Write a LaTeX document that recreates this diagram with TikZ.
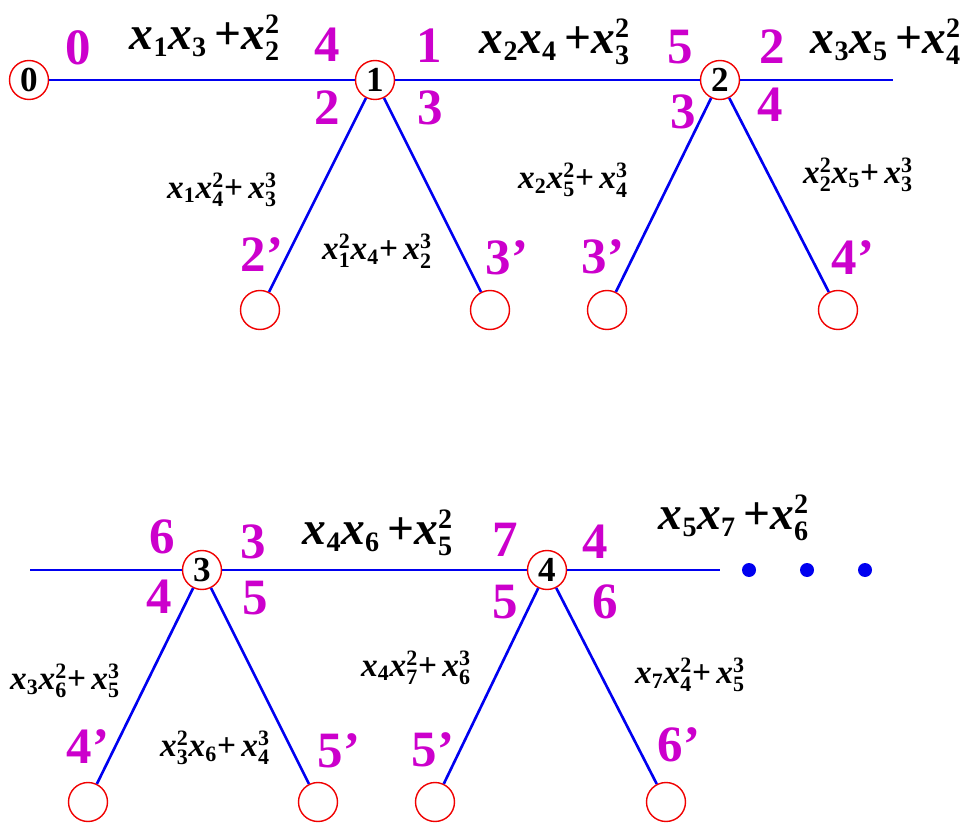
\documentclass[tikz,border=0pt]{standalone}
\usepackage{fontspec}
\setmainfont{Liberation Serif}
\usepackage{amsmath}
\usepackage{xcolor}
\definecolor{wireblue}{HTML}{0000F0}
\definecolor{portmag}{HTML}{CC00CC}
\definecolor{ringred}{HTML}{F00000}
\DeclareMathSizes{27}{27}{16}{12}
\DeclareMathSizes{19}{19}{12.5}{10}
\tikzset{
  vtx/.style    ={circle,draw=ringred,line width=0.8pt,minimum size=7.8mm,
                  inner sep=0pt,font=\fontsize{20}{20}\selectfont\bfseries},
  leaf/.style   ={circle,draw=ringred,line width=0.8pt,minimum size=7.8mm,
                  inner sep=0pt},
  port/.style   ={text=portmag,font=\fontsize{29}{29}\selectfont\bfseries,
                  inner sep=0pt},
  bigeq/.style  ={font=\fontsize{27}{27}\selectfont\bfseries,inner sep=0pt},
  smalleq/.style={font=\fontsize{19}{19}\selectfont\bfseries,inner sep=0pt},
  wire/.style   ={draw=wireblue,line width=1.5pt},
  etc/.style    ={circle,fill=wireblue,minimum size=2.8mm,inner sep=0pt},
}
\newcommand{\xs}[1]{\text{\itshape x}_{\text{#1}}}
\newcommand{\xp}[2]{\text{\itshape x}_{\text{#1}}^{\text{#2}}}

\begin{document}
\begin{tikzpicture}[x=0.02cm,y=-0.02cm]
\useasboundingbox (0,0) rectangle (967,824);
% top chain
\node[vtx] (n0) at (29,80) {0};
\node[vtx] (n1) at (375,80) {1};
\node[vtx] (n2) at (720,80) {2};
\coordinate (e0) at (893,80);
\node[leaf] (t1) at (260,310) {};
\node[leaf] (t2) at (490,310) {};
\node[leaf] (t3) at (607,310) {};
\node[leaf] (t4) at (838,310) {};
\draw[wire] (n0) -- (n1);
\draw[wire] (n1) -- (n2);
\draw[wire] (n2) -- (e0);
\draw[wire] (n1) -- (t1);
\draw[wire] (n1) -- (t2);
\draw[wire] (n2) -- (t3);
\draw[wire] (n2) -- (t4);
% top labels
\node[port] (p0) at (78,48) {0};
\node[port] (p4) at (327,45) {4};
\node[port] (p1) at (429,46) {1};
\node[port] (p2) at (327,108) {2};
\node[port] (p3) at (430,108) {3};
\node[port] (p5) at (680,47) {5};
\node[port] (p2b) at (772,47) {2};
\node[port] (p3b) at (683,112) {3};
\node[port] (p4b) at (770,105) {4};
\node[port] (q2) at (262,255) {2'};
\node[port] (q3) at (507,258) {3'};
\node[port] (q3b) at (603,257) {3'};
\node[port] (q4) at (853,258) {4'};
\node[bigeq] (f1) at (205,38) {$\xs{1}\xs{3}\,\text{+}\xp{2}{2}$};
\node[bigeq] (f2) at (555,42) {$\xs{2}\xs{4}\,\text{+}\xp{3}{2}$};
\node[bigeq] (f3) at (886,42) {$\xs{3}\xs{5}\,\text{+}\xp{4}{2}$};
\node[smalleq] (g1) at (222,190) {$\xs{1}\xp{4}{2}\text{+}\,\xp{3}{3}$};
\node[smalleq] (g2) at (377,251) {$\xp{1}{2}\xs{4}\text{+}\,\xp{2}{3}$};
\node[smalleq] (g3) at (573,180) {$\xs{2}\xp{5}{2}\text{+}\,\xp{4}{3}$};
\node[smalleq] (g4) at (858,175) {$\xp{2}{2}\xs{5}\text{+}\,\xp{3}{3}$};
% bottom chain
\coordinate (s1) at (30,570);
\node[vtx] (n3) at (202,570) {3};
\node[vtx] (n4) at (547,570) {4};
\coordinate (e1) at (720,570);
\node[leaf] (b1) at (88,802) {};
\node[leaf] (b2) at (318,802) {};
\node[leaf] (b3) at (435,802) {};
\node[leaf] (b4) at (666,802) {};
\draw[wire] (s1) -- (n3);
\draw[wire] (n3) -- (n4);
\draw[wire] (n4) -- (e1);
\draw[wire] (n3) -- (b1);
\draw[wire] (n3) -- (b2);
\draw[wire] (n4) -- (b3);
\draw[wire] (n4) -- (b4);
\node[etc] (d1) at (749,570) {};
\node[etc] (d2) at (807,570) {};
\node[etc] (d3) at (865,570) {};
% bottom labels
\node[port] (p6) at (162,537) {6};
\node[port] (p3c) at (253,542) {3};
\node[port] (p4c) at (159,597) {4};
\node[port] (p5c) at (255,598) {5};
\node[port] (p7) at (505,540) {7};
\node[port] (p4d) at (595,542) {4};
\node[port] (p5d) at (505,602) {5};
\node[port] (p6d) at (605,602) {6};
\node[port] (q4c) at (88,747) {4'};
\node[port] (q5c) at (339,751) {5'};
\node[port] (q5d) at (433,750) {5'};
\node[port] (q6d) at (679,745) {6'};
\node[bigeq] (f4) at (378,533) {$\xs{4}\xs{6}\,\text{+}\xp{5}{2}$};
\node[bigeq] (f5) at (734,518) {$\xs{5}\xs{7}\,\text{+}\xp{6}{2}$};
\node[smalleq] (g5) at (65,681) {$\xs{3}\xp{6}{2}\text{+}\,\xp{5}{3}$};
\node[smalleq] (g6) at (215,748) {$\xp{3}{2}\xs{6}\text{+}\,\xp{4}{3}$};
\node[smalleq] (g7) at (416,668) {$\xs{4}\xp{7}{2}\text{+}\,\xp{6}{3}$};
\node[smalleq] (g8) at (690,675) {$\xs{7}\xp{4}{2}\text{+}\,\xp{5}{3}$};
\end{tikzpicture}
\end{document}
